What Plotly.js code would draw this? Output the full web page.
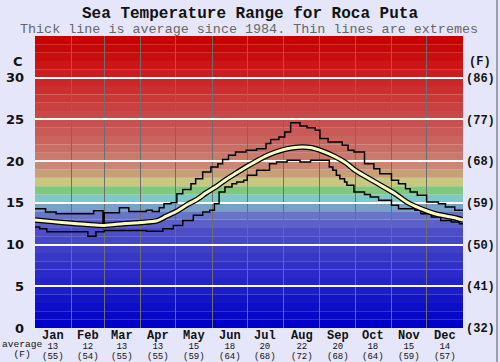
<!DOCTYPE html>
<html>
<head>
<meta charset="utf-8">
<script src="https://cdn.plot.ly/plotly-3.0.1.min.js"></script>
<style>html,body{margin:0;padding:0;background:#e6e6fa;}#chart{width:500px;height:362px;}</style>
</head>
<body>
<div id="chart"></div>
<script>
// ---- data ----
const months = ['Jan','Feb','Mar','Apr','May','Jun','Jul','Aug','Sep','Oct','Nov','Dec'];
const monthStart = [0,31,59,90,120,151,181,212,243,273,304,334];
const monthMid = [15.5,45,74.5,105,135.5,166,196.5,227.5,258,288.5,319,349.5];
const avgC = [13,12,13,13,15,18,20,22,20,18,15,14];
const avgF = [55,54,55,55,59,64,68,72,68,64,59,57];
const yTicksC = [0,5,10,15,20,25,30];
const yTicksF = ['(32)','(41)','(50)','(59)','(68)','(77)','(86)'];

const avgDay  = [0,15,31,45,59,75,90,104,112,121,130,138,146,155,163,172,180,190,200,210,220,228,236,245,255,265,273,290,307,317,324,341,355,365];
const avgTemp = [12.95,12.75,12.55,12.4,12.3,12.5,12.65,12.85,13.4,14.0,14.8,15.4,16.2,17.0,17.8,18.6,19.3,20.1,20.8,21.3,21.6,21.7,21.6,21.2,20.6,19.8,18.9,17.5,16.1,15.1,14.6,13.7,13.3,12.95];

const maxDay  = [0,9,18,50,58,59,72,80,95,100,106,110,116,121,126,133,137,143,150,156,160,165,171,180,189,197,201,208,213,218,226,232,239,243,250,262,267,272,281,289,294,304,310,316,320,326,334,344,350,358,365];
const maxTemp = [14.3,13.9,13.7,14.05,12.1,13.8,14.4,13.95,14.1,13.95,14.4,14.9,15.0,16.1,16.6,17.3,17.9,18.7,19.3,19.7,20.2,20.7,21.1,21.3,21.5,22.1,22.6,22.9,23.5,24.6,24.2,24.0,23.7,22.7,22.3,21.9,21.3,21.1,19.7,19.1,18.5,17.7,17.3,16.7,16.3,15.9,15.1,14.9,14.5,14.1,14.1];

const minDay  = [0,4,10,45,52,59,95,109,118,126,135,143,149,153,157,162,168,172,178,181,189,200,206,215,226,235,251,254,257,260,264,266,272,281,286,293,304,310,324,329,338,346,355,362,365];
const minTemp = [12.1,11.9,11.55,11.0,11.55,11.7,11.6,11.9,12.3,12.9,13.5,13.9,14.1,14.9,16.3,16.9,17.3,17.5,17.7,18.3,18.9,19.7,19.9,20.1,19.9,20.1,19.3,18.9,18.3,17.9,17.5,17.1,16.3,16.0,15.7,15.3,14.7,14.3,14.1,13.7,13.3,12.9,12.7,12.5,12.5];

// background band colours, one per degree from 0 to 35
const bandColors = [];
for (let i = 0; i < 12; i++) bandColors.push(`rgb(${7*i},${7*i},200)`);
bandColors.push('rgb(92,96,200)','rgb(104,116,200)','rgb(120,160,200)','rgb(128,200,200)',
  'rgb(128,200,128)','rgb(200,200,128)','rgb(200,160,120)','rgb(202,136,116)',
  'rgb(202,122,106)','rgb(202,110,100)','rgb(202,100,94)','rgb(202,90,88)','rgb(202,80,80)',
  'rgb(202,72,72)','rgb(202,64,64)','rgb(202,56,56)','rgb(202,48,48)','rgb(202,40,40)',
  'rgb(202,30,30)','rgb(202,22,22)','rgb(202,14,14)','rgb(202,7,7)','rgb(202,0,0)');

const shapes = bandColors.map((c,i)=>({type:'rect',xref:'paper',yref:'y',x0:0,x1:1,y0:i,y1:i+1,
  fillcolor:c,line:{width:0},layer:'below'}));
shapes.push({type:'line',xref:'paper',yref:'paper',x0:(497-35)/428,x1:(497-35)/428,y0:-34/292,y1:36/292+1,line:{color:'#555',width:1}});

const mono = 'Liberation Mono, Courier New, monospace';
const ink = '#111';
const annotations = [];
function note(o){ annotations.push(Object.assign({showarrow:false,xanchor:'center',yanchor:'middle'},o)); }
const sm = s => `<span style="font-size:9px">${s}</span>`;
months.forEach((m,i)=>{
  note({x:monthMid[i],xref:'x',y:0,yref:'paper',yanchor:'top',yshift:1,
    text:`<span style="font-size:12px"><b>${m}</b></span><br>${sm(avgC[i])}<br>${sm('('+avgF[i]+')')}`,
    font:{family:mono,size:7.6,color:ink}});
});
note({x:(22-35)/428,xref:'paper',y:0,yref:'paper',yanchor:'top',yshift:-9,
  text:`<span style="font-size:9.6px">average</span><br><span style="font-size:9.6px">(F)</span>`,
  font:{family:mono,size:8,color:ink}});
note({x:(18-35)/428,xref:'paper',y:(328-61)/292,yref:'paper',text:'C',font:{family:'DejaVu Sans',size:13,color:ink,weight:'bold'}});
note({x:(480-35)/428,xref:'paper',y:(328-62)/292,yref:'paper',text:'(F)',font:{family:mono,size:12,color:ink,weight:'bold'}});
note({x:0.5,xref:'paper',y:(328-29)/292,yref:'paper',text:'Thick line is average since 1984. Thin lines are extremes',
  font:{family:mono,size:13.4,color:'#666'}});

const traces = [
  {x:minDay,y:minTemp,yaxis:'y',mode:'lines',line:{color:'#000',width:1.5,shape:'hv'},hoverinfo:'skip'},
  {x:maxDay,y:maxTemp,yaxis:'y2',mode:'lines',line:{color:'#000',width:1.5,shape:'hv'},hoverinfo:'skip'},
  {x:avgDay,y:avgTemp,yaxis:'y3',mode:'lines',line:{color:'#000',width:5.5,shape:'spline',smoothing:0.8},hoverinfo:'skip'},
  {x:avgDay,y:avgTemp,yaxis:'y3',mode:'lines',line:{color:'#fcfcc0',width:3,shape:'spline',smoothing:0.8},hoverinfo:'skip'}
];

const layout = {
  width:500,height:362,
  margin:{l:35,r:37,t:36,b:34,pad:0},
  paper_bgcolor:'#e6e6fa',plot_bgcolor:'#e6e6fa',
  showlegend:false,
  title:{text:'<b>Sea Temperature Range for Roca Puta</b>',x:0.5,xanchor:'center',y:1-12/362,yanchor:'middle',
    font:{family:mono,size:16,color:ink}},
  xaxis:{range:[0,365],tickvals:monthStart.slice(1),showticklabels:false,ticks:'',showgrid:true,
    gridcolor:'#6e6e6e',gridwidth:1,zeroline:false,showline:false,fixedrange:true},
  yaxis:{range:[0,35],tickvals:yTicksC.slice(1),showticklabels:false,showgrid:true,
    gridcolor:'#ffffff',gridwidth:2,zeroline:false,ticks:'',fixedrange:true},
  yaxis2:{range:[0,35],overlaying:'y',side:'right',tickvals:yTicksC,ticktext:yTicksF,showgrid:false,zeroline:false,
    ticks:'',ticklabelstandoff:2,tickfont:{family:mono,size:12,color:ink,weight:'bold'},fixedrange:true},
  yaxis3:{range:[0,35],overlaying:'y',side:'left',tickvals:yTicksC,ticktext:yTicksC.map(String),showgrid:false,zeroline:false,ticks:'',
    ticklabelstandoff:10,tickfont:{family:'DejaVu Sans',size:13,color:ink,weight:'bold'},fixedrange:true},
  shapes:shapes,
  annotations:annotations
};

Plotly.newPlot('chart',traces,layout,{staticPlot:true,displayModeBar:false});
</script>
</body>
</html>
